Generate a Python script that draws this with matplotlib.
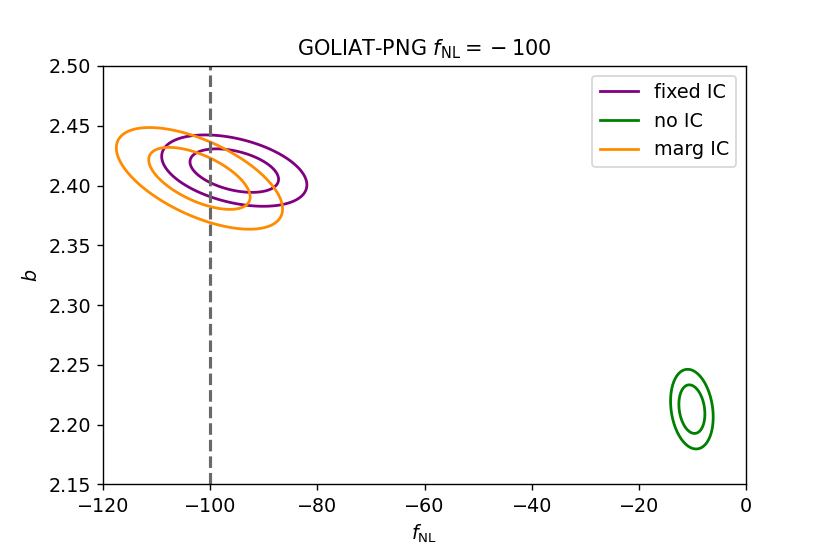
import numpy as np
import matplotlib
matplotlib.use('Agg')
import matplotlib.pyplot as plt

# Gaussian posteriors: centre, widths and correlation
labels = ['fixed IC', 'no IC', 'marg IC']
colors = ['purple', 'green', 'darkorange']
fnl_mean = [-95.5, -10.1, -102.0]
b_mean = [2.4125, 2.213, 2.406]
fnl_sigma = [5.45, 1.6, 6.24]
b_sigma = [0.012, 0.0134, 0.0171]
rho = [-0.4, -0.2, -0.6]

fnl_true = -100
levels = [2.30, 6.18]  # 68% and 95% for two parameters

plt.rcParams['font.size'] = 11

fig = plt.figure(figsize=(6.64, 4.432), dpi=125)
ax = fig.add_axes([0.1241, 0.1255, 0.7747, 0.7554])

f = np.linspace(-125, 5, 600)
b = np.linspace(2.14, 2.51, 600)
F, B = np.meshgrid(f, b)

for i in range(len(labels)):
    x = (F - fnl_mean[i]) / fnl_sigma[i]
    y = (B - b_mean[i]) / b_sigma[i]
    chi2 = (x**2 - 2 * rho[i] * x * y + y**2) / (1 - rho[i]**2)
    ax.contour(F, B, chi2, levels=levels, colors=colors[i], linewidths=1.6)
    ax.plot([], [], color=colors[i], lw=1.6, label=labels[i])

ax.axvline(fnl_true, color='dimgray', ls='--', lw=1.8)

ax.set_xlim(-120, 0)
ax.set_ylim(2.15, 2.50)
ax.set_xlabel(r'$f_{\rm NL}$')
ax.set_ylabel(r'$b$')
ax.set_title(r'GOLIAT-PNG $f_{\rm NL} = {} - 100$', fontsize=12)
ax.legend(loc='upper right')

fig.savefig('out.png', dpi=125)
